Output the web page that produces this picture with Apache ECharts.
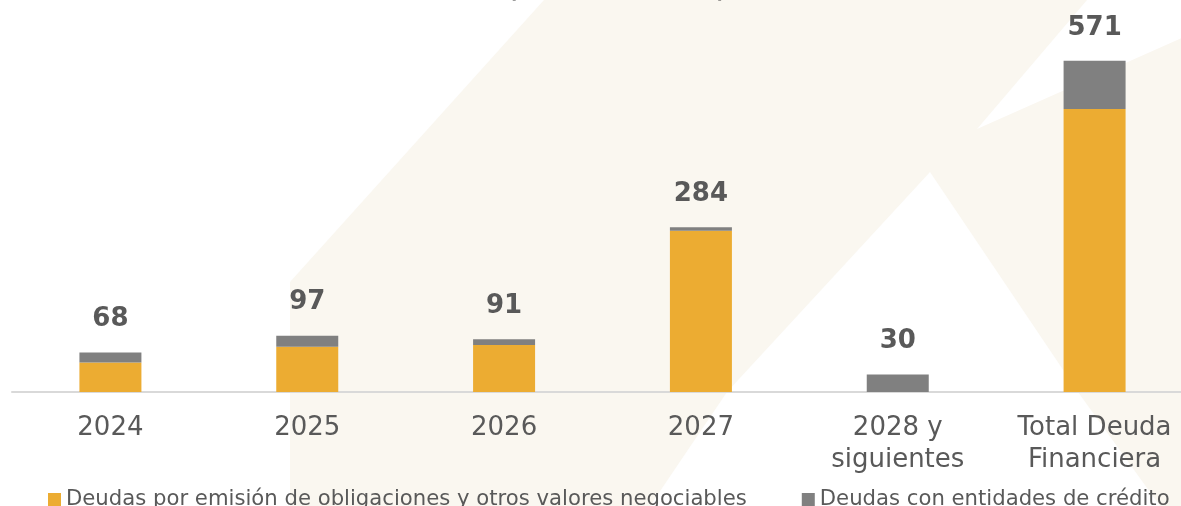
<!DOCTYPE html>
<html>
<head>
<meta charset="utf-8">
<script src="https://cdn.jsdelivr.net/npm/echarts@6/dist/echarts.min.js"></script>
<style>
html,body{margin:0;padding:0;background:#fff;overflow:hidden;}
#chart{width:1193px;height:506px;}
</style>
</head>
<body>
<div id="chart"></div>
<script>
const categories = ['2024', '2025', '2026', '2027', '2028 y\nsiguientes', 'Total Deuda\nFinanciera'];
const seriesNames = ['Deudas por emisión de obligaciones y otros valores negociables', 'Deudas con entidades de crédito'];
const obligaciones = [51, 78, 81, 278, 0, 488];
const credito = [17, 19, 10, 6, 30, 83];
const totals = [68, 97, 91, 284, 30, 571];
const titleText = '(Millones de euros)';

const FONT = 'Verdana, "DejaVu Sans", sans-serif';
const chart = echarts.init(document.getElementById('chart'), null, {renderer: 'canvas'});

const cream = '#faf7f0';
const option = {
  backgroundColor: '#ffffff',
  animation: false,
  graphic: [
    {
      type: 'polygon', z: -10, silent: true,
      shape: {points: [[544,0],[1087,0],[977,129],[1193,33],[1193,506],[290,506],[290,282]]},
      style: {fill: cream}
    },
    {
      type: 'polygon', z: -9, silent: true,
      shape: {points: [[930,172],[727,392],[650,506],[1160,506],[1078,392]]},
      style: {fill: '#ffffff'}
    },
    {
      type: 'text', z: 10, silent: true,
      style: {text: titleText, x: 617, y: 3, textAlign: 'center', textVerticalAlign: 'bottom',
        font: 'bold 20px ' + FONT, fill: '#404040'}
    }
  ],
  legend: {
    data: seriesNames,
    left: 43,
    top: 484,
    icon: 'rect',
    itemWidth: 13,
    itemHeight: 13,
    itemGap: 55,
    textStyle: {fontFamily: FONT, fontSize: 21.2, color: '#595959'}
  },
  grid: {left: 12, right: 0, top: 44, bottom: 114, containLabel: false},
  xAxis: {
    type: 'category',
    data: categories,
    axisLine: {show: true, lineStyle: {color: '#d9d9d9', width: 2}},
    axisTick: {show: false},
    axisLabel: {fontFamily: FONT, fontSize: 26, color: '#595959', margin: 20, lineHeight: 32, interval: 0}
  },
  yAxis: {type: 'value', min: 0, max: 600, show: false, splitLine: {show: false}},
  series: [
    {
      name: seriesNames[0], type: 'bar', stack: 'a', barWidth: 62,
      data: obligaciones,
      itemStyle: {color: '#ECAC32'}
    },
    {
      name: seriesNames[1], type: 'bar', stack: 'a', barWidth: 62,
      data: credito,
      itemStyle: {color: '#808080'},
      label: {
        show: true, position: 'top', distance: 20,
        formatter: p => String(totals[p.dataIndex]),
        fontFamily: FONT, fontSize: 26, fontWeight: 'bold', color: '#595959'
      }
    }
  ]
};
chart.setOption(option);
</script>
</body>
</html>
